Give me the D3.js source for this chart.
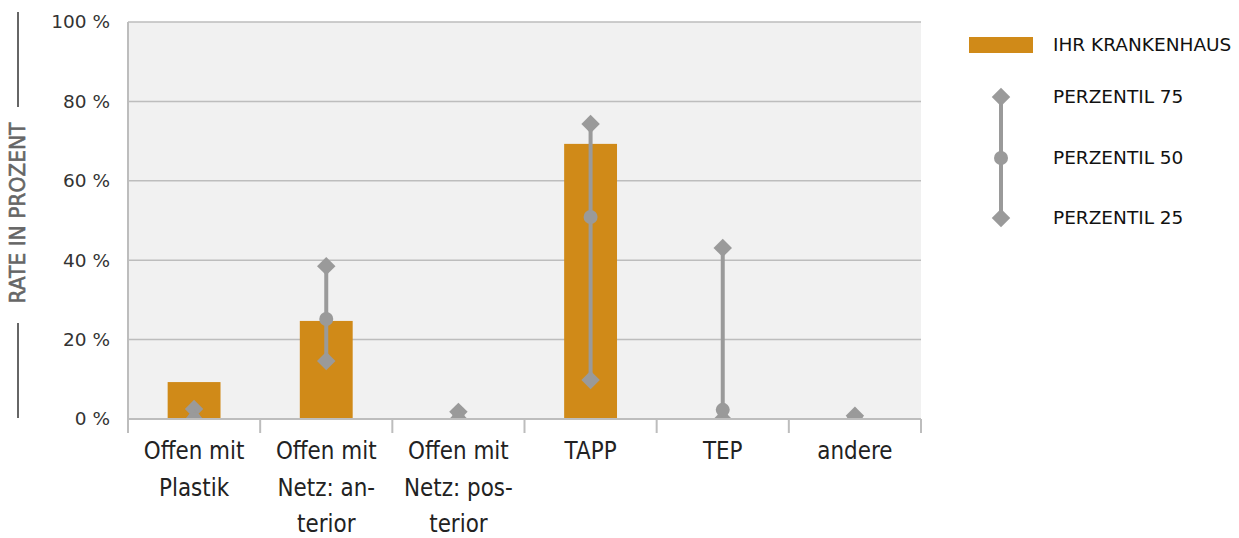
<!DOCTYPE html>
<html><head><meta charset="utf-8">
<script src="https://cdn.jsdelivr.net/npm/d3@7"></script>
<style>body{margin:0;background:#fff}svg{display:block}</style>
</head><body>
<svg id="c" width="1239" height="538"></svg>
<script>
const categories = [["Offen mit","Plastik"],["Offen mit","Netz: an-","terior"],["Offen mit","Netz: pos-","terior"],["TAPP"],["TEP"],["andere"]];
const hospital = [9.3, 24.7, 0, 69.3, 0, 0];
const p75 = [2.5, 38.5, 1.8, 74.3, 43.1, 0.8];
const p50 = [0, 25.2, 0, 50.9, 2.3, 0];
const p25 = [0, 14.6, 0, 9.8, 0, 0];
const yTicks = [0, 20, 40, 60, 80, 100];
const legendLabels = ["IHR KRANKENHAUS", "PERZENTIL 75", "PERZENTIL 50", "PERZENTIL 25"];

const svg = d3.select("#c");
const L = 128, R = 921, T = 22, B = 419;
const x = d3.scaleBand().domain(d3.range(categories.length)).range([L, R]).paddingInner(0.6).paddingOuter(0.3);
const xb = d3.scaleBand().domain(d3.range(categories.length)).range([L, R]);
const y = d3.scaleLinear().domain([0, 100]).range([B, T]);
const orange = "#D08A18", gray = "#9a9a9a", grid = "#bdbdbd";

svg.append("rect").attr("x", L).attr("y", T).attr("width", R - L).attr("height", B - T).attr("fill", "#f1f1f1");
svg.append("g").selectAll("line").data(yTicks.filter(d => d > 0)).join("line")
  .attr("x1", L).attr("x2", R).attr("y1", d => y(d)).attr("y2", d => y(d))
  .attr("stroke", grid).attr("stroke-width", 1.5);

// y labels
svg.append("g").selectAll("text").data(yTicks).join("text")
  .attr("x", 110).attr("y", d => y(d)).attr("dy", "0.35em").attr("text-anchor", "end")
  .attr("font-family", "DejaVu Sans").attr("font-size", 18.5).attr("fill", "#333")
  .text(d => d + " %");

// clip
svg.append("clipPath").attr("id", "clip").append("rect").attr("x", L).attr("y", T - 20).attr("width", R - L).attr("height", B - T + 20);
const g = svg.append("g").attr("clip-path", "url(#clip)");

g.selectAll("rect.bar").data(hospital).join("rect").attr("class", "bar")
  .attr("x", (d, i) => x(i)).attr("width", x.bandwidth())
  .attr("y", d => y(d)).attr("height", d => B - y(d)).attr("fill", orange);

const cx = i => xb(i) + xb.bandwidth() / 2;
g.selectAll("line.rng").data(p75).join("line").attr("class", "rng")
  .attr("x1", (d, i) => cx(i)).attr("x2", (d, i) => cx(i))
  .attr("y1", d => y(d)).attr("y2", (d, i) => y(p25[i]))
  .attr("stroke", gray).attr("stroke-width", 4);
const diamond = d3.symbol().type(d3.symbolSquare).size(170);
[p75, p25].forEach(arr => {
  g.append("g").selectAll("path").data(arr).join("path")
    .attr("d", diamond())
    .attr("transform", (d, i) => `translate(${cx(i)},${y(d)}) rotate(45)`)
    .attr("fill", gray);
});
g.append("g").selectAll("circle").data(p50).join("circle")
  .attr("cx", (d, i) => cx(i)).attr("cy", d => y(d)).attr("r", 7).attr("fill", gray);

// axes lines
svg.append("line").attr("x1", L).attr("x2", L).attr("y1", T).attr("y2", 433).attr("stroke", grid).attr("stroke-width", 2);
svg.append("line").attr("x1", L).attr("x2", R).attr("y1", B).attr("y2", B).attr("stroke", grid).attr("stroke-width", 2);
svg.append("g").selectAll("line").data(d3.range(1, categories.length + 1)).join("line")
  .attr("x1", i => xb(i - 1) + xb.bandwidth()).attr("x2", i => xb(i - 1) + xb.bandwidth())
  .attr("y1", B).attr("y2", 433).attr("stroke", grid).attr("stroke-width", 2);

// x labels (condensed via horizontal scale)
const xl = svg.append("g").selectAll("text").data(categories).join("text")
  .attr("transform", (d, i) => `translate(${cx(i)},0) scale(0.86,1)`)
  .attr("text-anchor", "middle").attr("font-family", "DejaVu Sans, sans-serif")
  .attr("font-size", 25).attr("fill", "#222");
xl.each(function(d) {
  d3.select(this).selectAll("tspan").data(d).join("tspan")
    .attr("x", 0).attr("y", (t, j) => 459 + j * 36.6).text(t => t);
});

// y title
svg.append("text").attr("transform", "translate(25,213) rotate(-90) scale(0.92,1)")
  .attr("text-anchor", "middle").attr("font-family", "DejaVu Sans, sans-serif")
  .attr("font-size", 22).attr("fill", "#666").attr("stroke", "#666").attr("stroke-width", 0.6)
  .text("RATE IN PROZENT");
svg.append("line").attr("x1", 18).attr("x2", 18).attr("y1", 12).attr("y2", 107).attr("stroke", "#666").attr("stroke-width", 2);
svg.append("line").attr("x1", 18).attr("x2", 18).attr("y1", 323).attr("y2", 418).attr("stroke", "#666").attr("stroke-width", 2);

// legend
const lg = svg.append("g");
lg.append("rect").attr("x", 969).attr("y", 37).attr("width", 64).attr("height", 16).attr("fill", orange);
const ly = [45, 97, 158, 218];
lg.append("line").attr("x1", 1001).attr("x2", 1001).attr("y1", ly[1]).attr("y2", ly[3]).attr("stroke", gray).attr("stroke-width", 4);
[1, 3].forEach(k => lg.append("path").attr("d", diamond()).attr("transform", `translate(1001,${ly[k]}) rotate(45)`).attr("fill", gray));
lg.append("circle").attr("cx", 1001).attr("cy", ly[2]).attr("r", 7).attr("fill", gray);
lg.selectAll("text").data(legendLabels).join("text")
  .attr("x", 1053).attr("y", (d, i) => ly[i]).attr("dy", "0.35em")
  .attr("font-family", "DejaVu Sans").attr("font-size", 18.5).attr("fill", "#111").text(d => d);
</script>
</body></html>
